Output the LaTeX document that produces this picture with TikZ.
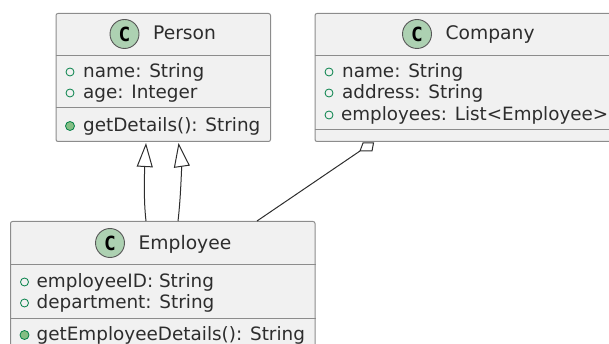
\documentclass[tikz,border=0pt]{standalone}
\usepackage{fontspec}
\setmainfont{DejaVu Sans}
\newfontfamily\spotfont{DejaVu Sans Mono}
\usetikzlibrary{arrows.meta, positioning, calc, backgrounds}
\definecolor{boxfill}{RGB}{241, 241, 241}
\definecolor{boxline}{RGB}{140, 140, 140}
\definecolor{spotfill}{RGB}{173, 209, 178}
\definecolor{inkgray}{RGB}{45, 45, 45}
\definecolor{memgreen}{RGB}{3, 128, 72}
\definecolor{methgreen}{RGB}{132, 190, 132}
\tikzset{
  classbox/.style={draw=boxline, fill=boxfill, rounded corners=2pt, line width=1pt, anchor=north west, inner sep=0pt},
  divider/.style={draw=boxline, line width=1pt},
  spot/.style={circle, draw=inkgray!80, fill=spotfill, line width=0.9pt, minimum size=29pt, inner sep=0pt, font=\fontsize{19.5}{19.5}\selectfont\spotfont\bfseries},
  classname/.style={font=\fontsize{18.7}{21}\selectfont, text=inkgray, anchor=west, inner sep=0pt, text height=14pt, text depth=2pt},
  member/.style={font=\fontsize{18.4}{21}\selectfont, text=inkgray, anchor=west, inner sep=0pt, text height=14pt, text depth=2.5pt},
  attrdot/.style={circle, draw=memgreen, fill=boxfill, line width=0.8pt, minimum size=8pt, inner sep=0pt},
  methdot/.style={circle, draw=memgreen, fill=methgreen, line width=0.8pt, minimum size=9pt, inner sep=0pt},
  link/.style={draw=inkgray, line width=1pt},
  extends/.style={link, -{Triangle[open, length=24pt, width=16pt, fill=white]}}
}

\begin{document}
\begin{tikzpicture}[x=1pt, y=-1pt]
  \useasboundingbox (0,0) rectangle (609,344);

  % Person
  \node[classbox, minimum width=214.5pt, minimum height=128pt] (person) at (55.5,13) {};
  \node[spot] (personspot) at (124.5,34) {C};
  \node[classname, right=13.5pt of personspot] (persontitle) {Person};
  \draw[divider] (person.west |- 0,55.5) -- (person.east |- 0,55.5);
  \draw[divider] (person.west |- 0,108) -- (person.east |- 0,108);
  \node[attrdot] (personnamedot) at (70,72) {};
  \node[member, right=8.5pt of personnamedot] (personname) {name: String};
  \node[attrdot] (personagedot) at (70,93) {};
  \node[member, right=8.5pt of personagedot] (personage) {age: Integer};
  \node[methdot] (persondetailsdot) at (70,126) {};
  \node[member, right=8pt of persondetailsdot] (persondetails) {getDetails(): String};

  % Company
  \node[classbox, minimum width=300pt, minimum height=128pt] (company) at (314.5,13) {};
  \node[spot] (companyspot) at (417,34) {C};
  \node[classname, right=13.5pt of companyspot] (companytitle) {Company};
  \draw[divider] (company.west |- 0,55.5) -- (company.east |- 0,55.5);
  \draw[divider] (company.west |- 0,130) -- (company.east |- 0,130);
  \node[attrdot] (companynamedot) at (329,72) {};
  \node[member, right=8.5pt of companynamedot] (companyname) {name: String};
  \node[attrdot] (companyaddressdot) at (329,93) {};
  \node[member, right=8.5pt of companyaddressdot] (companyaddress) {address: String};
  \node[attrdot] (companyemployeesdot) at (329,115) {};
  \node[member, right=7.5pt of companyemployeesdot, font=\fontsize{18.3}{21}\selectfont] (companyemployees) {employees: List<Employee>};

  % Employee
  \node[classbox, minimum width=304.5pt, minimum height=135pt] (employee) at (10,221) {};
  \node[spot] (employeespot) at (110,243) {C};
  \node[classname, right=13.5pt of employeespot] (employeetitle) {Employee};
  \draw[divider] (employee.west |- 0,264) -- (employee.east |- 0,264);
  \draw[divider] (employee.west |- 0,318) -- (employee.east |- 0,318);
  \node[attrdot] (employeeiddot) at (24.5,282) {};
  \node[member, right=7.5pt of employeeiddot] (employeeid) {employeeID: String};
  \node[attrdot] (employeedeptdot) at (24.5,303) {};
  \node[member, right=7.5pt of employeedeptdot] (employeedept) {department: String};
  \node[methdot] (employeedetailsdot) at (24.5,335) {};
  \node[member, right=7pt of employeedetailsdot] (employeedetails) {getEmployeeDetails(): String};

  % Inheritance and aggregation
  \draw[extends] ($(employee.north west)+(136,0)$) .. controls ($(employee.north west)+(133,-25)$) and ($(person.south west)+(89.5,20)$) .. ($(person.south west)+(90.5,1)$);
  \draw[extends] ($(employee.north west)+(168,0)$) .. controls ($(employee.north west)+(171,-25)$) and ($(person.south west)+(126,22)$) .. ($(person.south west)+(123,1)$);
  \coordinate (aggfoot) at ($(company.south west)+(45.5,9)$);
  \draw[link] ($(employee.north west)+(247,0)$) -- (aggfoot);
  \draw[link, fill=white] (aggfoot) -- ++(12,0) -- ++(1.5,-8) -- ++(-10.5,0) -- cycle;
\end{tikzpicture}
\end{document}
